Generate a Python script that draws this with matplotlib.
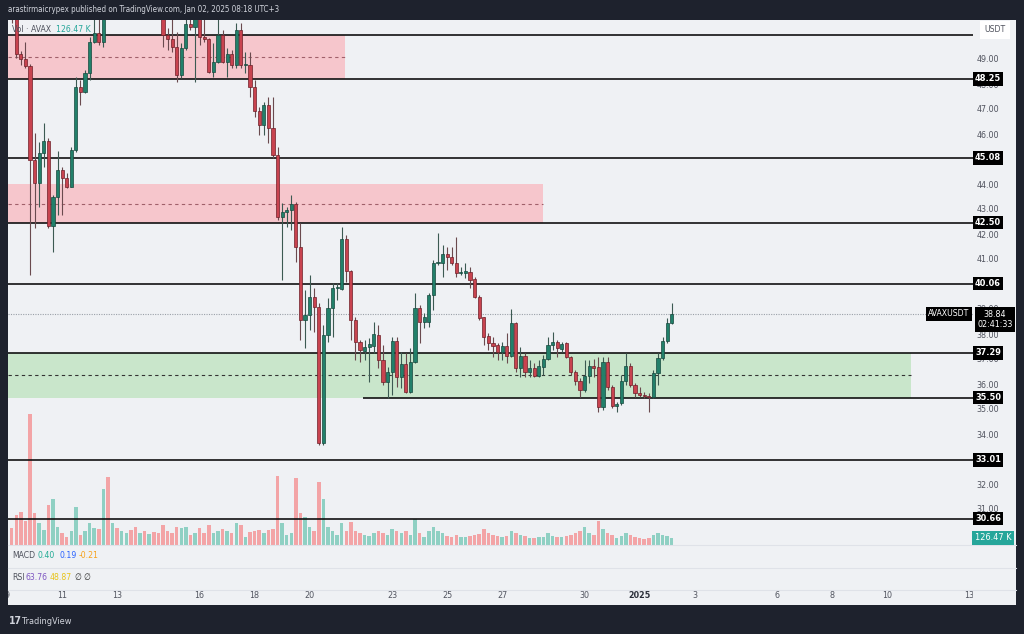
import matplotlib
matplotlib.use('Agg')
import matplotlib.pyplot as plt
from matplotlib.patches import Rectangle
from matplotlib.transforms import blended_transform_factory as blend
import numpy as np

# ---------------- data (AVAX/USDT, 4h candles) ----------------
opens = [51.8, 51.0, 49.24, 49.04, 48.75, 45.0, 44.07, 45.27, 45.77, 42.37,
         43.53, 44.6, 44.27, 43.93, 45.4, 47.93, 47.73, 48.47, 49.71, 50.07,
         49.73, 51.5, 51.1, 51.7, 51.4, 51.8, 52.3, 51.9, 51.5, 51.8,
         51.3, 51.6, 51.1, 50.8, 50.0, 49.83, 49.51, 48.4, 49.47, 50.43,
         50.31, 50.67, 49.93, 49.83, 48.53, 48.93, 50.0, 48.93, 49.23, 48.8,
         50.2, 48.8, 48.8, 47.93, 46.97, 46.4, 47.2, 46.27, 45.2, 42.73,
         42.93, 43.0, 43.23, 41.53, 38.6, 38.8, 39.53, 39.13, 33.67, 38.0,
         39.07, 39.87, 39.83, 41.83, 40.57, 38.6, 37.73, 37.37, 37.51, 37.57,
         38.0, 37.0, 36.13, 36.53, 37.77, 36.31, 36.84, 35.73, 36.91, 39.07,
         38.53, 38.53, 39.6, 40.89, 40.87, 41.24, 41.13, 40.87, 40.47, 40.5,
         40.53, 40.23, 39.53, 38.71, 37.96, 37.67, 37.59, 37.31, 37.56, 37.17,
         38.49, 36.67, 37.17, 36.53, 36.67, 36.37, 36.73, 37.03, 37.6, 37.73,
         37.43, 37.69, 37.11, 36.53, 36.17, 35.8, 36.36, 36.76, 36.71, 35.11,
         36.93, 35.93, 35.16, 35.27, 36.17, 36.76, 36.0, 35.69, 35.59, 35.56,
         35.51, 36.47, 37.07, 37.76, 38.47]
highs = [52.3, 51.2, 49.35, 49.73, 48.85, 46.07, 45.73, 46.47, 45.87, 43.6,
         45.36, 44.73, 44.47, 45.53, 48.33, 48.2, 48.6, 49.93, 50.85, 50.9,
         51.9, 52.6, 51.9, 52.3, 52.0, 52.6, 52.5, 52.1, 52.0, 51.9,
         51.9, 51.7, 51.3, 51.2, 50.27, 50.67, 50.13, 49.67, 50.8, 50.8,
         50.9, 50.9, 50.9, 49.87, 49.67, 50.8, 50.2, 49.47, 49.4, 50.5,
         50.5, 49.33, 49.33, 48.2, 47.13, 47.33, 47.53, 47.53, 45.53, 43.27,
         43.13, 43.6, 43.33, 42.47, 39.8, 40.4, 39.87, 39.27, 38.4, 39.47,
         40.07, 40.07, 42.33, 42.0, 40.6, 38.73, 37.8, 37.8, 37.87, 38.53,
         38.4, 37.6, 36.73, 37.91, 37.93, 37.33, 37.27, 37.47, 39.69, 39.2,
         38.87, 39.67, 41.0, 42.07, 41.6, 41.53, 41.53, 41.93, 40.73, 40.9,
         40.73, 40.33, 39.6, 38.73, 38.07, 37.93, 37.67, 37.73, 38.07, 39.03,
         38.53, 37.53, 37.27, 37.0, 36.87, 37.0, 37.2, 37.93, 38.13, 37.8,
         37.73, 37.73, 37.15, 36.6, 36.27, 37.0, 37.0, 37.03, 37.13, 37.13,
         37.13, 36.0, 35.33, 36.4, 37.27, 36.87, 36.07, 35.93, 35.73, 35.67,
         36.6, 37.27, 37.93, 38.67, 39.27]
lows = [50.5, 49.1, 48.8, 48.67, 40.4, 42.27, 43.13, 44.73, 42.3, 41.33,
        42.8, 42.8, 43.87, 43.93, 45.33, 47.2, 47.67, 48.2, 49.67, 49.6,
        49.53, 50.9, 50.8, 51.2, 51.0, 51.5, 51.6, 51.2, 51.2, 51.0,
        51.0, 50.9, 50.7, 49.53, 49.4, 49.33, 48.13, 48.27, 49.4, 50.2,
        48.13, 49.6, 49.73, 48.47, 48.33, 48.87, 48.87, 48.33, 48.67, 48.7,
        48.7, 48.47, 47.53, 46.73, 46.0, 46.0, 45.67, 45.1, 42.6, 40.2,
        42.33, 42.2, 40.93, 37.8, 37.47, 38.2, 38.13, 33.6, 33.6, 37.73,
        37.93, 39.4, 39.8, 40.13, 37.8, 37.0, 36.93, 37.0, 36.13, 37.27,
        36.67, 36.0, 35.47, 35.6, 35.93, 35.87, 35.67, 35.69, 36.87, 37.67,
        38.27, 38.33, 39.0, 40.8, 40.33, 40.6, 40.8, 40.33, 40.4, 40.3,
        39.87, 39.47, 38.6, 37.6, 37.4, 37.13, 37.0, 37.0, 36.87, 37.13,
        36.53, 36.33, 36.33, 36.33, 36.33, 36.33, 36.4, 37.0, 37.4, 37.13,
        37.33, 37.07, 36.4, 36.0, 35.53, 35.73, 36.07, 36.33, 34.93, 35.0,
        35.8, 35.07, 34.93, 35.2, 36.0, 35.93, 35.53, 35.53, 35.47, 34.93,
        35.47, 36.0, 37.0, 37.67, 38.44]
closes = [51.0, 49.24, 49.04, 48.75, 45.0, 44.07, 45.27, 45.77, 42.37, 43.53,
          44.6, 44.27, 43.93, 45.4, 47.93, 47.73, 48.47, 49.71, 50.07, 49.73,
          51.5, 51.1, 51.7, 51.4, 51.8, 52.3, 51.9, 51.5, 51.8, 51.3,
          51.6, 51.1, 50.8, 50.0, 49.83, 49.51, 48.4, 49.47, 50.43, 50.31,
          50.67, 49.93, 49.83, 48.53, 48.93, 50.0, 48.93, 49.23, 48.8, 50.2,
          48.8, 48.82, 47.93, 46.97, 46.4, 47.2, 46.27, 45.2, 42.73, 42.93,
          43.0, 43.23, 41.53, 38.6, 38.8, 39.53, 39.13, 33.67, 38.0, 39.07,
          39.87, 39.9, 41.83, 40.57, 38.6, 37.73, 37.4, 37.53, 37.63, 38.03,
          37.0, 36.13, 36.53, 37.77, 36.33, 36.84, 35.73, 36.91, 39.07, 38.53,
          38.7, 39.6, 40.89, 40.92, 41.24, 41.11, 40.87, 40.47, 40.5, 40.53,
          40.2, 39.53, 38.67, 37.93, 37.67, 37.56, 37.31, 37.56, 37.17, 38.47,
          36.67, 37.17, 36.51, 36.67, 36.37, 36.77, 37.04, 37.6, 37.73, 37.47,
          37.64, 37.11, 36.53, 36.17, 35.8, 36.36, 36.76, 36.69, 35.13, 36.93,
          35.93, 35.16, 35.24, 36.17, 36.76, 36.0, 35.67, 35.59, 35.56, 35.51,
          36.47, 37.07, 37.76, 38.47, 38.84]
# volume in thousands of AVAX
volumes = [307, 542, 596, 434, 2367, 578, 398, 271, 723, 831,
           325, 217, 145, 253, 687, 181, 253, 398, 307, 289,
           1012, 1229, 398, 307, 253, 217, 271, 325, 217, 253,
           199, 235, 217, 361, 253, 217, 325, 307, 325, 181,
           217, 307, 217, 361, 217, 253, 289, 253, 217, 398,
           361, 145, 235, 253, 271, 217, 271, 289, 1247, 398,
           181, 217, 1211, 578, 506, 325, 253, 1138, 831, 325,
           253, 181, 398, 253, 416, 253, 217, 181, 163, 217,
           253, 217, 181, 289, 253, 217, 253, 181, 470, 217,
           145, 253, 325, 253, 217, 163, 145, 181, 145, 145,
           163, 181, 199, 289, 217, 181, 163, 145, 163, 253,
           217, 181, 163, 126, 126, 145, 145, 217, 163, 145,
           145, 163, 181, 217, 253, 325, 217, 181, 434, 289,
           217, 181, 126, 163, 217, 181, 145, 126, 108, 126,
           181, 217, 181, 163, 126.47]

levels = [50.00, 48.25, 45.08, 42.50, 40.06, 37.29, 33.01, 30.66]
support_level = 35.50
zones = [(48.25, 50.00, 49.12, 'red'), (42.50, 44.04, 43.25, 'red'),
         (35.50, 37.29, 36.40, 'green')]
labelled_levels = ['48.25', '45.08', '42.50', '40.06', '37.29', '35.50', '33.01', '30.66']
price_ticks = [31, 32, 34, 35, 36, 37, 38, 39, 41, 42, 43, 44, 46, 47, 48, 49]
day_ticks = [9, 11, 13, 16, 18, 20, 23, 25, 27, 30, 32, 34, 37, 39, 41, 44]
day_labels = ['9', '11', '13', '16', '18', '20', '23', '25', '27', '30', '2025',
              '3', '6', '8', '10', '13']
last_price = 38.84

# ---------------- figure ----------------
W, H = 1024, 634
DARK = '#1e222d'
LIGHT = '#eff1f4'
UP, DOWN = '#22806a', '#c8434f'
UP_E, DOWN_E = '#17483d', '#6e1f28'
VUP, VDOWN = '#8fd0c3', '#f3a4a6'
plt.rcParams['font.family'] = ['DejaVu Sans']
plt.rcParams['font.stretch'] = 'condensed'

fig = plt.figure(figsize=(W / 100, H / 100), dpi=100, facecolor=DARK)


def fx(x):
    return x / W


def fy(y):
    return 1 - y / H


fig.add_artist(Rectangle((fx(8), fy(605)), fx(1016) - fx(8), fy(20) - fy(605),
                         transform=fig.transFigure, facecolor=LIGHT,
                         edgecolor='none', zorder=-5))

rect = [fx(8), fy(545), fx(973) - fx(8), fy(20) - fy(545)]
axv = fig.add_axes(rect)
ax = fig.add_axes(rect)
ax.set_zorder(2)
axv.set_zorder(1)
for a in (ax, axv):
    a.set_axis_off()
    a.set_xlim(9.036, 44.127)
ax.set_ylim(29.6, 50.6)
axv.set_ylim(0, 9485)

n = len(opens)
o = np.array(opens); h = np.array(highs); l = np.array(lows); c = np.array(closes)
t = 9.171 + np.arange(n) / 6.0
up = c >= o

# volume
axv.bar(t, volumes, width=0.13, color=np.where(up, VUP, VDOWN), linewidth=0)

# zones
zone_right = [21.29, 28.49, 41.87]
for (lo, hi, mid, kind), right in zip(zones, zone_right):
    fc = '#f6c6cc' if kind == 'red' else '#c9e6cb'
    ax.fill_between([9.036, right], lo, hi, color=fc, linewidth=0, zorder=1)
    ax.hlines(mid, 9.036, right, colors='#a0606a' if kind == 'red' else '#333333',
              linestyles=(0, (3, 3)), linewidth=0.8, zorder=2)

# horizontal levels
ax.hlines(levels, 9.036, 44.127, colors='#111111', linewidth=1.2, zorder=3)
ax.hlines(support_level, 21.945, 44.127, colors='#111111', linewidth=1.2, zorder=3)
ax.hlines(last_price, 9.036, 44.127, colors='#9aa0a8', linestyles=(0, (1, 1.2)),
          linewidth=0.8, zorder=3)

# candles
ax.vlines(t, l, h, colors=np.where(up, '#3c5a52', '#6a4a4e'), linewidth=0.8, zorder=4)
ax.bar(t, np.maximum(np.abs(c - o), 0.05), bottom=np.minimum(o, c), width=0.115,
       color=np.where(up, UP, DOWN), edgecolor=np.where(up, UP_E, DOWN_E),
       linewidth=0.5, zorder=5)

# ---------------- right price scale ----------------
tr = blend(fig.transFigure, ax.transData)
for p in price_ticks:
    ax.text(fx(988), p, f'{p:.2f}', transform=tr, ha='center', va='center',
            fontsize=6.4, color='#50535e', clip_on=False, zorder=6)
for s in labelled_levels:
    ax.text(fx(988), float(s), s, transform=tr, ha='center', va='center',
            fontsize=6.6, color='white', fontweight='bold', clip_on=False, zorder=8,
            bbox=dict(boxstyle='square,pad=0.25', facecolor='black', edgecolor='none'))
ax.text(fx(995), last_price - 0.22, f'{last_price:.2f}\n02:41:33', transform=tr,
        ha='center', va='center', fontsize=6.4, color='white', linespacing=1.15,
        clip_on=False, zorder=9,
        bbox=dict(boxstyle='square,pad=0.3', facecolor='black', edgecolor='none'))
ax.text(fx(949), last_price, 'AVAXUSDT', transform=tr, ha='center', va='center',
        fontsize=6.2, color='white', clip_on=False, zorder=9,
        bbox=dict(boxstyle='square,pad=0.25', facecolor='black', edgecolor='none'))
fig.text(fx(993), fy(538), '126.47 K', ha='center', va='center', fontsize=6.6,
         color='white', bbox=dict(boxstyle='square,pad=0.25', facecolor='#26a69a',
                                  edgecolor='none'), zorder=9)
fig.text(fx(995), fy(30), 'USDT', ha='center', va='center', fontsize=6.2,
         color='#50535e', bbox=dict(boxstyle='square,pad=0.5', facecolor='white',
                                    edgecolor='none'), zorder=9)

# ---------------- legends / indicator panes ----------------
fig.text(fx(12), fy(29), 'Vol · AVAX', fontsize=6.2, color='#50535e', va='center')
fig.text(fx(56), fy(29), '126.47 K', fontsize=6.2, color='#26a69a', va='center')

for ypix in (545, 568, 590):
    fig.add_artist(plt.Line2D([fx(8), fx(1016)], [fy(ypix), fy(ypix)],
                              transform=fig.transFigure, color='#dfe2e8', lw=0.8))

for txt, col, xp in [('MACD', '#50535e', 12), ('0.40', '#22ab94', 38),
                     ('0.19', '#2962ff', 59), ('-0.21', '#f7a21b', 79)]:
    fig.text(fx(xp), fy(556), txt, fontsize=6.2, color=col, va='center')
for txt, col, xp in [('RSI', '#50535e', 12), ('63.76', '#7e57c2', 26),
                     ('48.87', '#e8c41a', 50), ('∅', '#333333', 74), ('∅', '#333333', 83)]:
    fig.text(fx(xp), fy(578), txt, fontsize=6.2, color=col, va='center')

# time axis
axt = fig.add_axes([fx(8), fy(605), fx(973) - fx(8), fy(590) - fy(605)])
axt.set_axis_off()
axt.set_xlim(9.036, 44.127)
axt.set_ylim(0, 1)
for d, s in zip(day_ticks, day_labels):
    axt.text(d, 0.6, s, ha='center', va='center', fontsize=6.4,
             color='#2a2e39' if s == '2025' else '#50535e',
             fontweight='bold' if s == '2025' else 'normal', clip_on=True)

# header / footer
fig.text(fx(8), fy(10), 'arastirmaicrypex published on TradingView.com, Jan 02, 2025 08:18 UTC+3',
         fontsize=5.8, color='#d1d4dc', va='center')
fig.text(fx(9), fy(621), '17', fontsize=7.5, color='#d1d4dc', va='center',
         fontweight='bold')
fig.text(fx(22), fy(621), 'TradingView', fontsize=6.6, color='#d1d4dc', va='center')

fig.savefig('out.png', dpi=100, facecolor=DARK)
